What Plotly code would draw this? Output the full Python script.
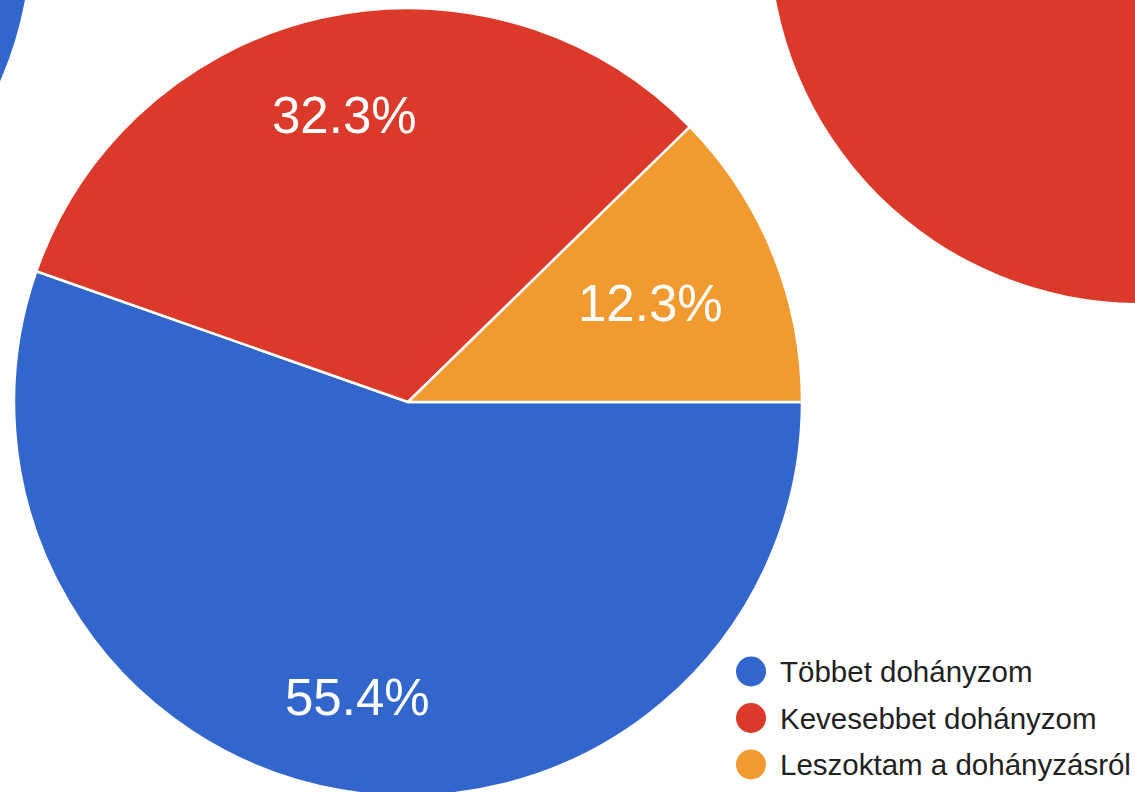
import math
import plotly.graph_objects as go

# ---- data ----
labels = ["Többet dohányzom", "Kevesebbet dohányzom", "Leszoktam a dohányzásról"]
counts = [36, 21, 8]
colors = ["#3366CC", "#DB3A2B", "#F09A30"]

# ---- layout / style constants ----
W, H = 1135, 800          # slightly taller than the 792px view so the pie bottom is cropped
PIE_CX, PIE_CY, PIE_R = 408, 402, 394          # desired pie placement (px)
LABEL_RADIUS = [0.76, 0.745, 0.665]            # radial position of % labels
LABEL_SIZE = 51
LEG_X, LEG_Y0, LEG_DY, LEG_DOT = 751, 671.5, 46.5, 30
LEG_TEXT_X = 778
LEG_FONT = 29.5
FONT = "Arial, 'Liberation Sans', sans-serif"

# pie domain in paper coords (clipped to [0,1])
dx0 = max(0.0, (PIE_CX - PIE_R) / W)
dx1 = min(1.0, (PIE_CX + PIE_R) / W)
dy0 = max(0.0, 1 - (PIE_CY + PIE_R) / H)
dy1 = min(1.0, 1 - (PIE_CY - PIE_R) / H)

# effective geometry plotly will use
cx = (dx0 + dx1) / 2 * W
cy = (1 - (dy0 + dy1) / 2) * H
r = min((dx1 - dx0) * W, (dy1 - dy0) * H) / 2

fig = go.Figure()
fig.add_trace(go.Pie(
    labels=labels,
    values=counts,
    sort=False,
    direction="clockwise",
    rotation=90,
    marker=dict(colors=colors, line=dict(color="white", width=2.5)),
    textinfo="none",
    hoverinfo="label+percent",
    showlegend=False,
    domain=dict(x=[dx0, dx1], y=[dy0, dy1]),
))

annotations = []
shapes = []

# percentage labels, placed from the slice angles computed from the data
total = sum(counts)
cum = 0
for i, v in enumerate(counts):
    start = 90 + 360 * cum / total
    mid = math.radians(start + 180 * v / total)
    cum += v
    px = cx + LABEL_RADIUS[i] * r * math.sin(mid)
    py = cy - LABEL_RADIUS[i] * r * math.cos(mid)
    annotations.append(dict(
        x=px / W, y=1 - py / H, xref="paper", yref="paper",
        text=f"{100 * v / total:.1f}%", showarrow=False,
        xanchor="center", yanchor="middle",
        font=dict(family=FONT, size=LABEL_SIZE, color="white"),
    ))

# custom legend with circular markers
for i, (lab, col) in enumerate(zip(labels, colors)):
    yc = LEG_Y0 + i * LEG_DY
    shapes.append(dict(
        type="circle", xref="paper", yref="paper",
        x0=(LEG_X - LEG_DOT / 2) / W, x1=(LEG_X + LEG_DOT / 2) / W,
        y0=1 - (yc + LEG_DOT / 2) / H, y1=1 - (yc - LEG_DOT / 2) / H,
        fillcolor=col, line=dict(width=0),
    ))
    annotations.append(dict(
        x=LEG_TEXT_X / W, y=1 - yc / H, xref="paper", yref="paper",
        text=lab, showarrow=False, xanchor="left", yanchor="middle",
        font=dict(family=FONT, size=LEG_FONT, color="#222222"),
    ))

# decorative partial circles at the top corners
for (ccx, ccy, cr, col) in [(-339, -67, 370, colors[0]), (1140, -67, 370, colors[1])]:
    shapes.append(dict(
        type="circle", xref="paper", yref="paper", layer="below",
        x0=(ccx - cr) / W, x1=(ccx + cr) / W,
        y0=1 - (ccy + cr) / H, y1=1 - (ccy - cr) / H,
        fillcolor=col, line=dict(width=0),
    ))

fig.update_layout(
    width=W, height=H,
    margin=dict(l=0, r=0, t=0, b=0),
    paper_bgcolor="white", plot_bgcolor="white",
    annotations=annotations, shapes=shapes,
    showlegend=False,
)

fig.write_html(
    "out.html",
    config={"displayModeBar": False},
    post_script="document.body.style.margin='0';document.body.style.overflow='hidden';",
)
